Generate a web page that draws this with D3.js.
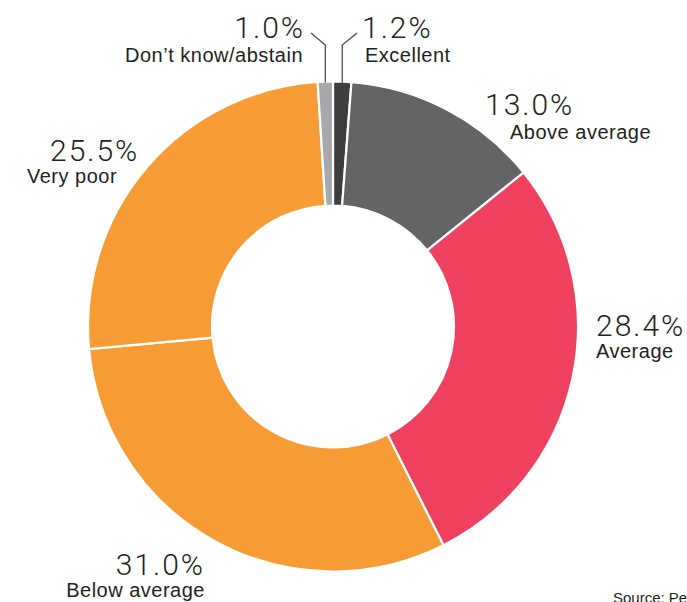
<!DOCTYPE html>
<html>
<head>
<meta charset="utf-8">
<script src="https://cdn.jsdelivr.net/npm/d3@7"></script>
<style>
  body { margin: 0; background: #fff; overflow: hidden; }
  svg { display: block; }
  .pct { font-family: Roboto, "Helvetica Neue", "Liberation Sans", sans-serif; font-weight: 300; font-size: 30px; letter-spacing: 2px; fill: #231f20; }
  .lbl { font-family: "Helvetica Neue", "Liberation Sans", Roboto, sans-serif; font-size: 20px; letter-spacing: 0.5px; fill: #231f20; }
  .src { font-family: "Helvetica Neue", "Liberation Sans", sans-serif; font-size: 15px; fill: #231f20; }
</style>
</head>
<body>
<div id="chart"></div>
<script>
var width = 687, height = 602;

// data, clockwise from 12 o'clock
var categories = ['Excellent', 'Above average', 'Average', 'Below average', 'Very poor', 'Don\u2019t know/abstain'];
var values = [1.2, 13.0, 28.4, 31.0, 25.5, 1.0];
var pctLabels = ['1.2%', '13.0%', '28.4%', '31.0%', '25.5%', '1.0%'];
var colors = ['#3d3e40', '#636466', '#f04060', '#f79c34', '#f79c34', '#a7a9ac'];

var cx = 333, cy = 326.5,
    outerR = 245, innerR = 121;

// label placement: [pct x, pct y, label x, label y, anchor]
var labelPos = {
  'Excellent':          [362, 38, 365, 62, 'start'],
  'Above average':      [485, 115, 510, 139, 'start'],
  'Average':            [596, 336, 596, 358, 'start'],
  'Below average':      [205, 575, 205, 597, 'end'],
  'Very poor':          [50, 161, 27, 183, 'start'],
  'Don\u2019t know/abstain': [305, 38, 303, 62, 'end']
};
// small slices get leader lines
var leaders = {
  'Excellent': 357,
  'Don\u2019t know/abstain': 311
};

var data = categories.map(function(c, i) {
  return { cat: c, value: values[i], pct: pctLabels[i], color: colors[i] };
});

var svg = d3.select('#chart').append('svg')
    .attr('width', width)
    .attr('height', height);

var pie = d3.pie().sort(null).value(function(d){ return d.value; });
var arc = d3.arc().innerRadius(innerR).outerRadius(outerR);

var g = svg.append('g').attr('transform', 'translate(' + cx + ',' + cy + ')');

var arcs = pie(data);

g.selectAll('path.slice')
  .data(arcs)
  .enter().append('path')
  .attr('class', 'slice')
  .attr('d', arc)
  .attr('fill', function(d){ return d.data.color; })
  .attr('stroke', '#fff')
  .attr('stroke-width', 2.2)
  .attr('stroke-linejoin', 'miter');

// leader lines
arcs.forEach(function(d) {
  if (leaders[d.data.cat] === undefined) return;
  var mid = (d.startAngle + d.endAngle) / 2;
  var x0 = cx + outerR * Math.sin(mid),
      y0 = cy - outerR * Math.cos(mid);
  var pts = [[x0, y0 + 1], [x0, 45], [leaders[d.data.cat], 33]];
  svg.append('path')
    .attr('d', d3.line()(pts))
    .attr('fill', 'none')
    .attr('stroke', '#4d4d4f')
    .attr('stroke-width', 1.3);
});

var labels = svg.append('g').selectAll('g.label')
  .data(data)
  .enter().append('g')
  .attr('class', 'label');

labels.append('text')
  .attr('class', 'pct')
  .attr('x', function(d){ return labelPos[d.cat][0]; })
  .attr('y', function(d){ return labelPos[d.cat][1]; })
  .attr('text-anchor', function(d){ return labelPos[d.cat][4]; })
  .text(function(d){ return d.pct; });

labels.append('text')
  .attr('class', 'lbl')
  .attr('x', function(d){ return labelPos[d.cat][2]; })
  .attr('y', function(d){ return labelPos[d.cat][3]; })
  .attr('text-anchor', function(d){ return labelPos[d.cat][4]; })
  .text(function(d){ return d.cat; });

svg.append('text')
  .attr('class', 'src')
  .attr('x', 613)
  .attr('y', 603)
  .text('Source: Pew Research Center');
</script>
</body>
</html>
